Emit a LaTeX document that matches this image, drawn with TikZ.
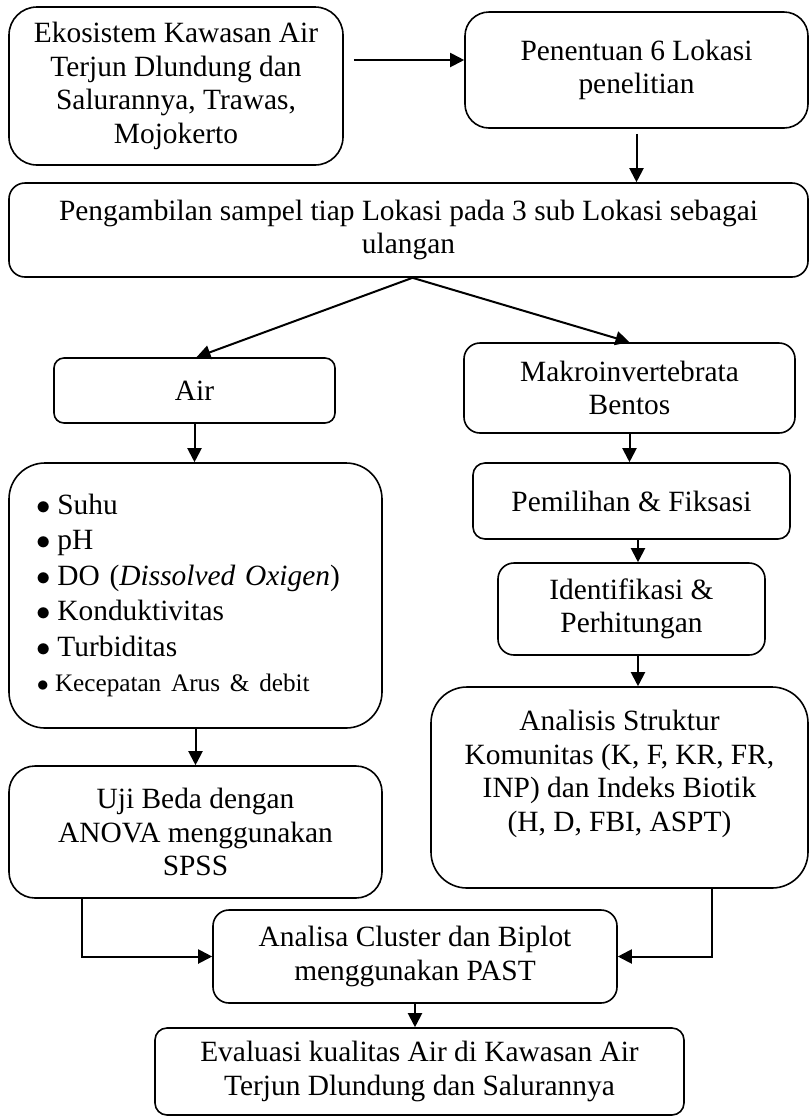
\documentclass[tikz,border=0pt]{standalone}
\usepackage{fontspec}
\setmainfont{Liberation Serif}
\usepackage{tikz}
\usetikzlibrary{arrows.meta,shapes,positioning,calc}

\newcommand{\butir}[1]{\hspace*{1.5pt}$\bullet$\hspace{3pt}#1}

\begin{document}
\begin{tikzpicture}[
    x=0.5pt, y=-0.5pt,
    box/.style={rectangle, draw, line width=0.8pt, rounded corners=7pt, inner sep=0pt,
        align=center, font=\fontsize{14.7}{16.8}\selectfont},
    arrow/.style={-{Triangle[length=7pt,width=7pt]}, line width=1pt}
]
    \useasboundingbox (0,0) rectangle (810,1116);

    \node[box, minimum width=167pt, minimum height=79pt, rounded corners=14pt] (eko) at (176,86)
        {Ekosistem Kawasan Air\\ Terjun Dlundung dan\\ Salurannya, Trawas,\\ Mojokerto};
    \node[box, minimum width=171.5pt, minimum height=58pt, rounded corners=12pt] (lokasi) at (636.5,70)
        {Penentuan 6 Lokasi\\ penelitian};
    \node[box, minimum width=399.5pt, minimum height=47pt, rounded corners=8pt] (sampel) at (408.5,230)
        {Pengambilan sampel tiap Lokasi pada 3 sub Lokasi sebagai\\ ulangan};

    \node[box, minimum width=140.5pt, minimum height=32.5pt, rounded corners=5pt] (air) at (194.5,390.5) {Air};
    \node[box, minimum width=165.5pt, minimum height=45pt, rounded corners=8pt] (makro) at (629.5,388)
        {Makroinvertebrata\\ Bentos};

    \node[box, minimum width=186.5pt, minimum height=132.5pt, rounded corners=18pt,
        text width=161.5pt, align=left, font=\fontsize{14.7}{17.75}\selectfont] (param) at (195.5,595.5)
        {\butir{Suhu}\\ \butir{pH}\\ \butir{DO (\textit{Dissolved Oxigen})}\\
         \butir{Konduktivitas}\\ \butir{Turbiditas}\\
         {\fontsize{12.6}{14}\selectfont \butir{Kecepatan Arus \& debit}}};
    \node[box, minimum width=158.5pt, minimum height=38pt, rounded corners=6pt] (pilih) at (631.5,501)
        {Pemilihan \& Fiksasi};
    \node[box, minimum width=133.5pt, minimum height=46pt, rounded corners=8pt] (ident) at (631.5,609)
        {Identifikasi \&\\ Perhitungan};
    \node[box, minimum width=188.5pt, minimum height=100.5pt, rounded corners=18pt] (struktur) at (619.5,787.5)
        {Analisis Struktur\\ Komunitas (K, F, KR, FR,\\ INP) dan Indeks Biotik\\ (H, D, FBI, ASPT)\\ \mbox{}};

    \node[box, minimum width=186.5pt, minimum height=66pt, rounded corners=13pt] (uji) at (195.5,832)
        {Uji Beda dengan\\ ANOVA menggunakan\\ SPSS};
    \node[box, minimum width=202pt, minimum height=46.5pt, rounded corners=8pt] (cluster) at (415,956.5)
        {Analisa Cluster dan Biplot\\ menggunakan PAST};
    \node[box, minimum width=264.5pt, minimum height=43.5pt, rounded corners=6pt] (evaluasi) at (419.5,1071.5)
        {Evaluasi kualitas Air di Kawasan Air\\ Terjun Dlundung dan Salurannya};

    % alur utama
    \draw[arrow] ([xshift=5pt,yshift=13pt]eko.east) -- ([yshift=13pt]eko.east -| lokasi.west);
    \draw[arrow] ([yshift=-2.5pt]lokasi.south) -- (lokasi.south |- sampel.north);
    \draw[arrow] ([xshift=2pt]sampel.south) -- ([xshift=1pt]air.north);
    \draw[arrow] ([xshift=2pt]sampel.south) -- (makro.north);

    % cabang air
    \draw[arrow] (air.south) -- (air.south |- param.north);
    \draw[arrow] (param) -- (uji);
    \draw[arrow] ([xshift=-56.75pt]uji.south) |- (cluster.west);

    % cabang makroinvertebrata
    \draw[arrow] (makro.south) -- (makro.south |- pilih.north);
    \draw[arrow] ([xshift=3.25pt]pilih.south) -- ([xshift=3.25pt]ident.north);
    \draw[arrow] ([xshift=3.25pt]ident.south) -- ([xshift=9.25pt]struktur.north);
    \draw[arrow] ([xshift=46.25pt]struktur.south) |- (cluster.east);

    \draw[arrow] (cluster.south) -- (cluster.south |- evaluasi.north);
\end{tikzpicture}
\end{document}
